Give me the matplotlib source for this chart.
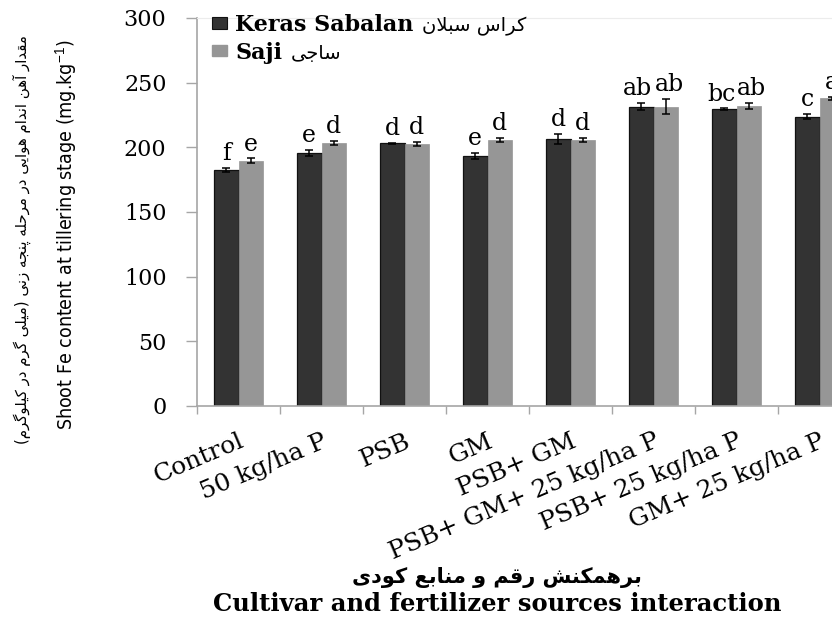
import matplotlib
matplotlib.use("Agg")
import matplotlib.pyplot as plt
import numpy as np
from matplotlib import font_manager
from matplotlib.font_manager import FontProperties
from matplotlib.patches import Patch

# ---------------- data ----------------
treatments = ["Control", "50 kg/ha P", "PSB", "GM", "PSB+ GM",
              "PSB+ GM+ 25 kg/ha P", "PSB+ 25 kg/ha P", "GM+ 25 kg/ha P"]
keras_mean = [182.5, 195.5, 203.0, 193.5, 206.5, 231.5, 229.6, 223.8]
keras_err = [1.8, 2.5, 0.5, 2.5, 4.0, 2.8, 0.5, 1.8]
saji_mean = [189.8, 203.2, 202.7, 205.8, 205.8, 231.5, 232.0, 237.8]
saji_err = [1.7, 1.7, 1.3, 1.3, 1.3, 6.0, 2.6, 1.5]
keras_letters = ["f", "e", "d", "e", "d", "ab", "bc", "c"]
saji_letters = ["e", "d", "d", "d", "d", "ab", "ab", "a"]

keras_name = "Keras Sabalan"
keras_name_fa = "کراس سبلان"
saji_name = "Saji"
saji_name_fa = "ساجی"
ylabel_en = "Shoot Fe content at tillering stage (mg.kg$^{-1}$)"
ylabel_fa = "مقدار آهن اندام هوایی در مرحله پنجه زنی (میلی گرم در کیلوگرم)"
xlabel_en = "Cultivar and fertilizer sources interaction"
xlabel_fa = "برهمکنش رقم و منابع کودی"

# ---------------- Persian shaping (presentation forms, visual order) ----------------
FORMS = {
    "ا": ("\uFE8D", "\uFE8E", None, None),
    "آ": ("\uFE81", "\uFE82", None, None),
    "ب": ("\uFE8F", "\uFE90", "\uFE91", "\uFE92"),
    "پ": ("\uFB56", "\uFB57", "\uFB58", "\uFB59"),
    "ج": ("\uFE9D", "\uFE9E", "\uFE9F", "\uFEA0"),
    "ح": ("\uFEA1", "\uFEA2", "\uFEA3", "\uFEA4"),
    "د": ("\uFEA9", "\uFEAA", None, None),
    "ر": ("\uFEAD", "\uFEAE", None, None),
    "ز": ("\uFEAF", "\uFEB0", None, None),
    "س": ("\uFEB1", "\uFEB2", "\uFEB3", "\uFEB4"),
    "ش": ("\uFEB5", "\uFEB6", "\uFEB7", "\uFEB8"),
    "ع": ("\uFEC9", "\uFECA", "\uFECB", "\uFECC"),
    "ق": ("\uFED5", "\uFED6", "\uFED7", "\uFED8"),
    "ک": ("\uFB8E", "\uFB8F", "\uFB90", "\uFB91"),
    "گ": ("\uFB92", "\uFB93", "\uFB94", "\uFB95"),
    "ل": ("\uFEDD", "\uFEDE", "\uFEDF", "\uFEE0"),
    "م": ("\uFEE1", "\uFEE2", "\uFEE3", "\uFEE4"),
    "ن": ("\uFEE5", "\uFEE6", "\uFEE7", "\uFEE8"),
    "ه": ("\uFEE9", "\uFEEA", "\uFEEB", "\uFEEC"),
    "و": ("\uFEED", "\uFEEE", None, None),
    "ی": ("\uFBFC", "\uFBFD", "\uFBFE", "\uFBFF"),
}
RIGHT_ONLY = set("اآدذرزژو")
LAM_ALEF = {"ا": ("\uFEFB", "\uFEFC"), "آ": ("\uFEF5", "\uFEF6")}


def _dual(c):
    return c in FORMS and c not in RIGHT_ONLY


def shape_fa(text):
    chars = list(text)
    n = len(chars)
    out = []
    i = 0
    while i < n:
        c = chars[i]
        if c not in FORMS:
            out.append(c)
            i += 1
            continue
        link_prev = i > 0 and _dual(chars[i - 1])
        if c == "ل" and i + 1 < n and chars[i + 1] in LAM_ALEF:
            iso, fin = LAM_ALEF[chars[i + 1]]
            out.append(fin if link_prev else iso)
            i += 2
            continue
        link_next = _dual(c) and i + 1 < n and chars[i + 1] in FORMS
        iso, fin, ini, med = FORMS[c]
        if link_prev and link_next:
            out.append(med)
        elif link_prev:
            out.append(fin)
        elif link_next:
            out.append(ini)
        else:
            out.append(iso)
        i += 1
    mirror = {"(": ")", ")": "("}
    return "".join(mirror.get(ch, ch) for ch in reversed(out))


# ---------------- fonts ----------------
installed = {f.name for f in font_manager.fontManager.ttflist}
condensed_dv = any(f.name == "DejaVu Sans" and "condensed" in str(f.stretch)
                   for f in font_manager.fontManager.ttflist)
SERIF = "DejaVu Serif"
ARABIC = "DejaVu Sans"
if "Liberation Sans Narrow" in installed:
    YLAB_FONT = dict(family=["Liberation Sans Narrow", "DejaVu Sans"])
elif condensed_dv:
    YLAB_FONT = dict(family=["DejaVu Sans"], fontstretch="condensed")
else:
    YLAB_FONT = dict(family=["Liberation Sans", "DejaVu Sans"])
plt.rcParams["mathtext.fontset"] = "custom"
plt.rcParams["mathtext.rm"] = "Liberation Sans"
plt.rcParams["mathtext.it"] = "Liberation Sans:italic"

DARK = "#333333"
GREY = "#969696"
AXIS = "#a6a6a6"

# ---------------- figure ----------------
W, H = 832, 618
fig = plt.figure(figsize=(W / 100, H / 100), dpi=100)
ax = fig.add_axes([197 / W, 1 - 406 / H, 664 / W, 388 / H])
renderer = fig.canvas.get_renderer()

x = np.arange(len(treatments))
bw = 0.295
ax.bar(x - bw / 2, keras_mean, bw, color=DARK, edgecolor="#111111", linewidth=0.9, zorder=2)
ax.bar(x + bw / 2, saji_mean, bw, color=GREY, edgecolor=GREY, linewidth=0.5, zorder=2)
ax.errorbar(x - bw / 2, keras_mean, yerr=keras_err, fmt="none", ecolor="black",
            elinewidth=1.1, capsize=3, capthick=1.1, zorder=3)
ax.errorbar(x + bw / 2, saji_mean, yerr=saji_err, fmt="none", ecolor="black",
            elinewidth=1.1, capsize=3, capthick=1.1, zorder=3)

ax.set_xlim(-0.5, len(treatments) - 0.5)
ax.set_ylim(0, 300)

# significance letters; a pair of wide letters is nudged apart so they don't collide
bar_gap_px = (ax.transData.transform((bw, 0)) - ax.transData.transform((0, 0)))[0]
for i in range(len(treatments)):
    items = []
    for xi, m, e, lab in ((x[i] - bw / 2, keras_mean[i], keras_err[i], keras_letters[i]),
                          (x[i] + bw / 2, saji_mean[i], saji_err[i], saji_letters[i])):
        t = ax.annotate(lab, (xi, m + e), xytext=(0, 2), textcoords="offset points",
                        ha="center", va="bottom", fontsize=17, family=SERIF,
                        annotation_clip=False)
        items.append(t)
    w0 = items[0].get_window_extent(renderer).width
    w1 = items[1].get_window_extent(renderer).width
    overlap = (w0 + w1) / 2 + 2 - bar_gap_px
    if overlap > 0:
        shift_pt = overlap / 2 * 72 / fig.dpi
        items[0].xyann = (-shift_pt, 2)
        items[1].xyann = (shift_pt, 2)

ax.set_yticks(np.arange(0, 301, 50))
ax.set_yticklabels([str(v) for v in range(0, 301, 50)], family=SERIF, fontsize=16)
ax.set_xticks(x)
ax.set_xticklabels(treatments, family=SERIF, fontsize=18, rotation=23,
                   ha="right", rotation_mode="anchor")
ax.set_xticks(np.arange(-0.5, len(treatments), 1), minor=True)
ax.tick_params(axis="x", which="major", length=0, pad=17)
ax.tick_params(axis="x", which="minor", length=6, width=1, color=AXIS, direction="out")
ax.tick_params(axis="y", which="major", length=8, width=1, color=AXIS, pad=14)

for side in ("left", "bottom"):
    ax.spines[side].set_color(AXIS)
    ax.spines[side].set_linewidth(1.2)
ax.spines["top"].set_color("#ececec")
ax.spines["top"].set_linewidth(0.8)
ax.spines["right"].set_visible(False)

# legend: English names in the legend, Persian names written after them
leg_font = FontProperties(family=SERIF, weight="bold", size=16)
handles = [Patch(facecolor=DARK, edgecolor="#111111", linewidth=0.8),
           Patch(facecolor=GREY, edgecolor=GREY)]
leg = ax.legend(handles, [keras_name, saji_name], loc="upper left",
                bbox_to_anchor=(212 / W, 1 - 14 / H),
                bbox_transform=fig.transFigure, frameon=False, prop=leg_font,
                handlelength=0.68, handleheight=0.4, handletextpad=0.36,
                labelspacing=0.25, borderpad=0, borderaxespad=0)

# axis titles
ylab = fig.text(66 / W, 1 - 235 / H, ylabel_en, rotation=90, ha="center", va="center",
                fontsize=15, **YLAB_FONT)
ylab_fa = fig.text(22 / W, 1 - 240 / H, shape_fa(ylabel_fa), rotation=90, ha="center",
                   va="center", fontsize=11, family=ARABIC)
fig.text(497 / W, 1 - 577 / H, shape_fa(xlabel_fa), ha="center", va="center",
         fontsize=15, family=ARABIC, weight="bold")
fig.text(497 / W, 1 - 604 / H, xlabel_en, ha="center", va="center",
         fontsize=17.5, family=SERIF, weight="bold")

# fit the vertical titles to their lengths along the axis
for txt, target in ((ylab, 392.0), (ylab_fa, 410.0)):
    ext = txt.get_window_extent(renderer)
    txt.set_fontsize(txt.get_fontsize() * target / ext.height)

# the legend is laid out at draw time; place the Persian names once it is
fig.canvas.draw()
for lt, fa in zip(leg.get_texts(), (keras_name_fa, saji_name_fa)):
    bb = lt.get_window_extent(renderer)
    fig.text((bb.x1 + 9) / W, (bb.y0 + bb.y1) / 2 / H - 1 / H, shape_fa(fa),
             ha="left", va="center", fontsize=14, family=ARABIC)

fig.savefig("out.png", dpi=100)
